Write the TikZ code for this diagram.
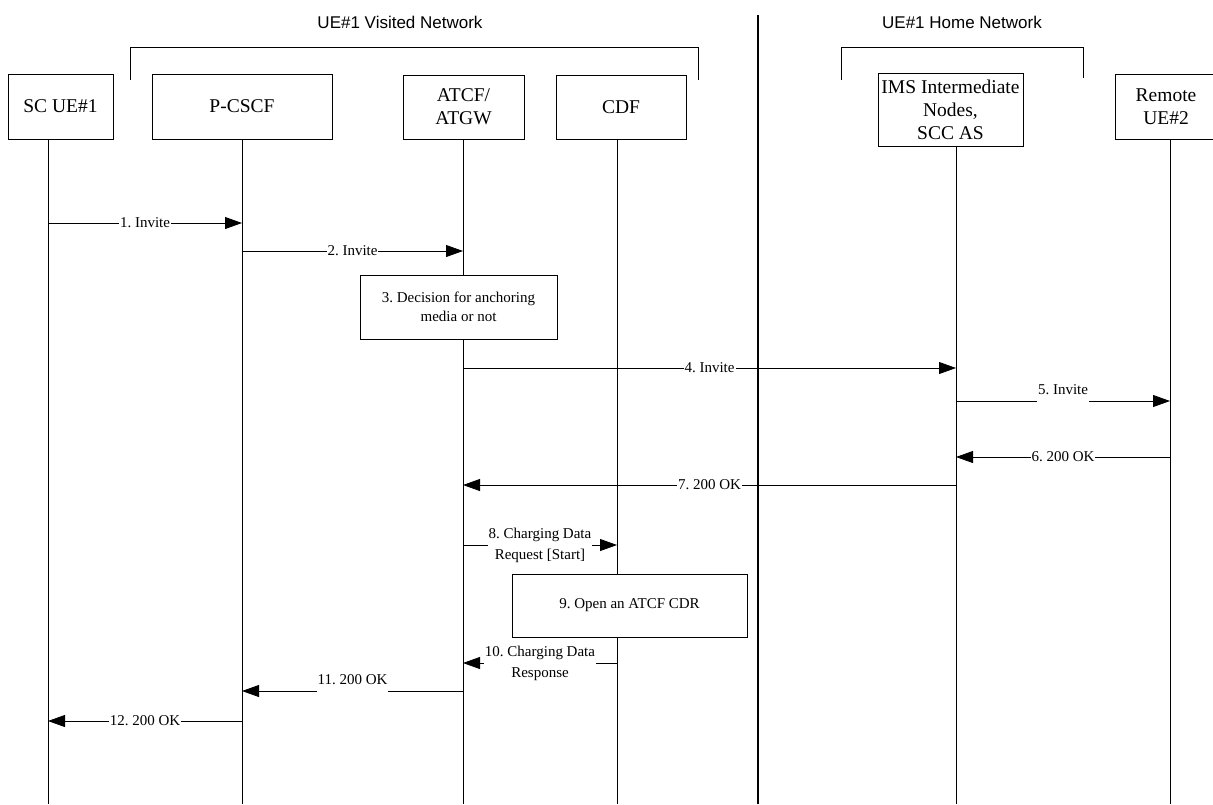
\documentclass[tikz,border=0pt]{standalone}
\usepackage{fontspec}
\setmainfont{Liberation Serif}
\newfontfamily\hdrfont{Liberation Sans}
\usetikzlibrary{arrows.meta}
\frenchspacing

\begin{document}
\begin{tikzpicture}[x=1pt,y=-1pt,
    entity/.style={draw,line width=.8pt,inner sep=0pt,align=center,
      font=\fontsize{19.5}{23}\selectfont},
    action/.style={draw,fill=white,line width=.8pt,inner sep=0pt,align=center,
      font=\fontsize{15}{19}\selectfont},
    msg/.style={line width=.8pt,-{Triangle[length=17pt,width=12pt]}},
    lbl/.style={fill=white,inner xsep=1pt,inner ysep=1pt,align=center,
      font=\fontsize{15}{21}\selectfont},
    hdr/.style={font=\hdrfont\fontsize{17}{20}\selectfont}]
    \useasboundingbox (0,0) rectangle (1213,804);
    % networks
    \node[hdr] (visited) at (400,22) {UE\#1 Visited Network};
    \node[hdr] (home) at (962,22) {UE\#1 Home Network};
    \draw[line width=.8pt] (130,80) -- (130,47) -- (698,47) -- (698,80);
    \draw[line width=.8pt] (841,80) -- (841,47) -- (1083,47) -- (1083,78);
    \draw[line width=2pt] (758,15) -- (758,804);
    % entities
    \node[entity,minimum width=105pt,minimum height=65pt] (sc) at (60.5,106.5) {SC UE\#1};
    \node[entity,minimum width=180pt,minimum height=65pt] (pcscf) at (242,106.5) {P-CSCF};
    \node[entity,minimum width=121pt,minimum height=64pt] (atcf) at (463.5,107) {ATCF/\\ATGW};
    \node[entity,minimum width=130pt,minimum height=64pt] (cdf) at (621,107) {CDF};
    \node[entity,minimum width=145pt,minimum height=73pt] (ims) at (950.5,109.5)
        {IMS Intermediate\\Nodes,\\SCC AS};
    \node[entity,minimum width=102pt,minimum height=65pt] (remote) at (1166,106.5) {Remote\\UE\#2};
    % lifelines
    \foreach \n/\x in {sc/48,pcscf/242,atcf/463,cdf/617,ims/956,remote/1170} {
        \coordinate (\n-end) at (\x,804);
        \draw[line width=.8pt] (\n.south -| \n-end) -- (\n-end);
    }
    % flow
    \draw[msg] (sc-end |- 0,223) -- node[lbl] {1. Invite} (pcscf-end |- 0,223);
    \draw[msg] (pcscf-end |- 0,251) -- node[lbl] {2. Invite} (atcf-end |- 0,251);
    \node[action,minimum width=197pt,minimum height=64pt] (decide) at (458.5,307)
        {3. Decision for anchoring\\media or not};
    \draw[msg] (atcf-end |- 0,368) -- node[lbl] {4. Invite} (ims-end |- 0,368);
    \draw[msg] (ims-end |- 0,401) --
        node[lbl,yshift=11pt,minimum height=26pt] {5. Invite} (remote-end |- 0,401);
    \draw[msg] (remote-end |- 0,457) -- node[lbl] {6. 200 OK} (ims-end |- 0,457);
    \draw[msg] (ims-end |- 0,485) -- node[lbl] {7. 200 OK} (atcf-end |- 0,485);
    \draw[msg] (atcf-end |- 0,545) --
        node[lbl] {8. Charging Data\\Request [Start]} (cdf-end |- 0,545);
    \node[action,minimum width=235pt,minimum height=63pt] (opencdr) at (629.5,605.5)
        {9. Open an ATCF CDR};
    \draw[msg] (cdf-end |- 0,663) --
        node[lbl] {10. Charging Data\\Response} (atcf-end |- 0,663);
    \draw[msg] (atcf-end |- 0,691) --
        node[lbl,yshift=11pt,minimum height=26pt] {11. 200 OK} (pcscf-end |- 0,691);
    \draw[msg] (pcscf-end |- 0,721) -- node[lbl] {12. 200 OK} (sc-end |- 0,721);
\end{tikzpicture}
\end{document}
